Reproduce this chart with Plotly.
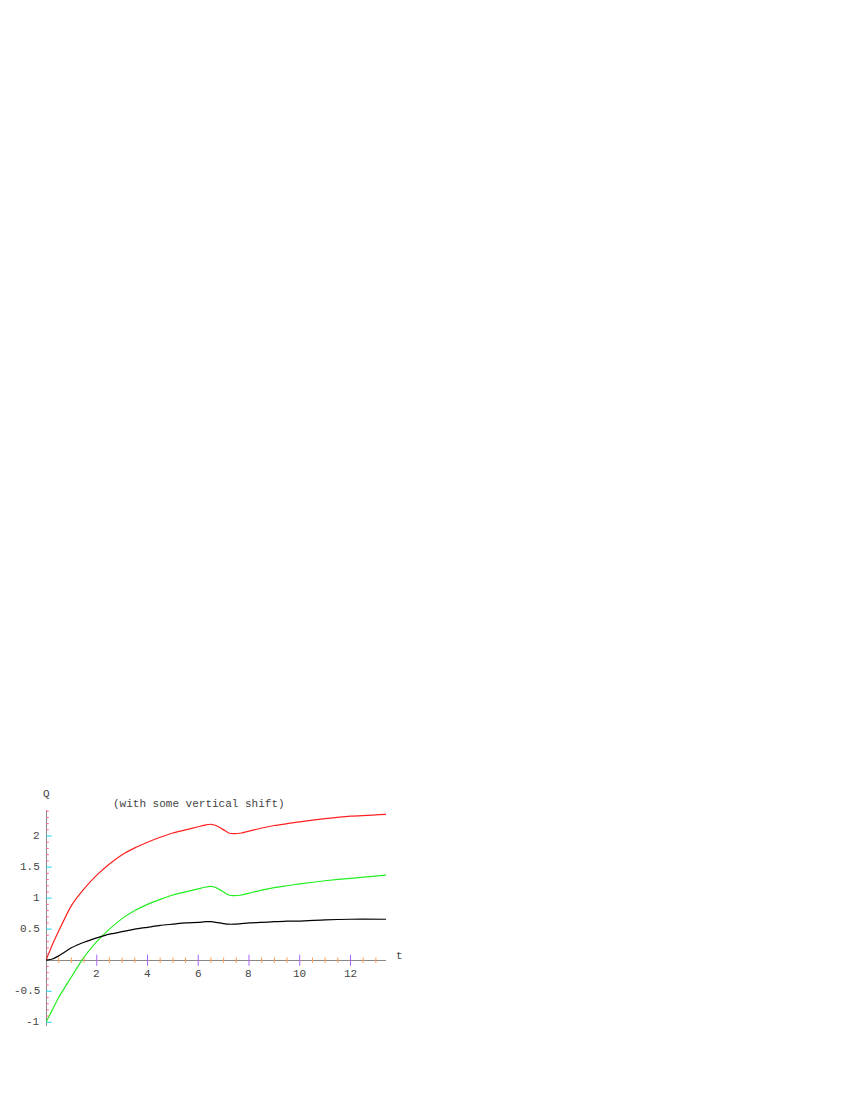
import plotly.graph_objects as go

t = [0, 0.25, 0.5, 1, 1.5, 2, 2.5, 3, 3.5, 4, 4.5, 5, 5.5, 6, 6.3, 6.5, 6.7, 7.0, 7.2, 7.4, 7.7, 8, 8.5, 9, 9.5, 10, 11, 12, 13.4]
red = [0, 0.25, 0.47, 0.88, 1.15, 1.37, 1.55, 1.7, 1.81, 1.9, 1.98, 2.05, 2.1, 2.15, 2.18, 2.19, 2.17, 2.1, 2.05, 2.04, 2.05, 2.08, 2.13, 2.17, 2.2, 2.23, 2.28, 2.32, 2.35]
green = [-1, -0.8, -0.6, -0.27, 0.05, 0.3, 0.5, 0.67, 0.8, 0.9, 0.98, 1.05, 1.1, 1.15, 1.18, 1.19, 1.17, 1.1, 1.05, 1.04, 1.05, 1.08, 1.13, 1.17, 1.2, 1.23, 1.28, 1.32, 1.37]
black = [0, 0.02, 0.07, 0.2, 0.29, 0.36, 0.42, 0.46, 0.5, 0.53, 0.56, 0.58, 0.6, 0.61, 0.62, 0.62, 0.61, 0.59, 0.58, 0.58, 0.59, 0.6, 0.61, 0.62, 0.63, 0.63, 0.65, 0.66, 0.66]

xticks = [2, 4, 6, 8, 10, 12]
yticks = [-1, -0.5, 0.5, 1, 1.5, 2]
ytick_labels = ["-1", "-0.5", "0.5", "1", "1.5", "2"]
xminor = [x / 2 for x in range(1, 27) if x % 4 != 0]
yminor = [y / 10 for y in range(-10, 25) if y % 5 != 0]

font = dict(family="Liberation Mono", size=11, color="#444")
fig = go.Figure()
for ys, c in [(red, "#ff2020"), (green, "#22ee22"), (black, "black")]:
    fig.add_trace(go.Scatter(x=t, y=ys, mode="lines", line=dict(color=c, width=1.2, shape="spline", smoothing=0.6), showlegend=False, hoverinfo="skip"))

fig.add_trace(go.Scatter(x=xticks, y=[0]*len(xticks), mode="markers", marker=dict(symbol="line-ns-open", size=8, line=dict(width=1, color="#888")), showlegend=False))
fig.add_trace(go.Scatter(x=xminor, y=[0]*len(xminor), mode="markers", marker=dict(symbol="line-ns-open", size=4, line=dict(width=1, color="#888")), showlegend=False))
fig.add_trace(go.Scatter(x=[0]*len(yticks), y=yticks, mode="markers", marker=dict(symbol="line-ew-open", size=8, line=dict(width=1, color="#888")), showlegend=False))
fig.add_trace(go.Scatter(x=[0]*len(yminor), y=yminor, mode="markers", marker=dict(symbol="line-ew-open", size=4, line=dict(width=1, color="#888")), showlegend=False))

ann = []
for x in xticks:
    ann.append(dict(x=x, y=0, text=str(x), showarrow=False, yshift=-14, font=font))
for y, lab in zip(yticks, ytick_labels):
    ann.append(dict(x=0, y=y, text=lab, showarrow=False, xanchor="right", xshift=-4, font=font))
ann.append(dict(x=13.4, y=0, text="t", showarrow=False, xanchor="left", xshift=8, yshift=4, font=font))
ann.append(dict(x=0, y=2.42, text="Q", showarrow=False, yanchor="bottom", yshift=8, font=font))
ann.append(dict(x=0.45, xref="paper", y=2.42, text="(with some vertical shift)", showarrow=False, yanchor="bottom", yshift=-2, font=font))

fig.update_layout(
    width=850, height=1100, paper_bgcolor="white", plot_bgcolor="white",
    margin=dict(l=38, r=472, t=802, b=82),
    xaxis=dict(range=[0, 13.4], showgrid=False, showticklabels=False, zeroline=True, zerolinecolor="#888", zerolinewidth=1),
    yaxis=dict(range=[-1.06, 2.42], showgrid=False, showticklabels=False, zeroline=True, zerolinecolor="#888", zerolinewidth=1),
    annotations=ann,
)
fig.write_html("out.html")
